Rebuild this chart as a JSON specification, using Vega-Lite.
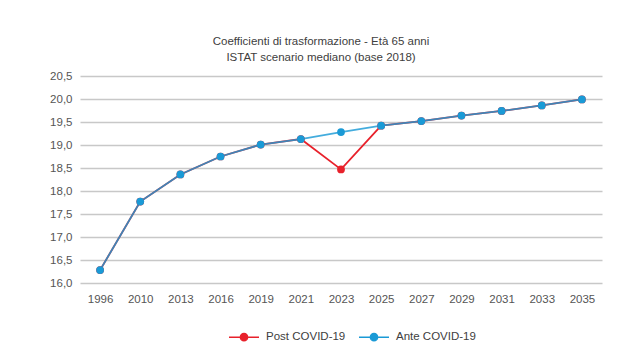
{
  "$schema": "https://vega.github.io/schema/vega-lite/v6.json",
  "width": 522,
  "height": 207,
  "autosize": {"type": "none"},
  "padding": {"left": 80, "top": 76, "right": 35, "bottom": 77},
  "background": "white",
  "config": {
    "locale": {"number": {"decimal": ",", "thousands": ".", "grouping": [3], "currency": ["€", ""]}},
    "font": "Liberation Sans",
    "view": {"stroke": null}
  },
  "title": {
    "text": ["Coefficienti di trasformazione - Età 65 anni", "ISTAT scenario mediano (base 2018)"],
    "fontSize": 11.5,
    "fontWeight": "normal",
    "color": "#404040",
    "anchor": "middle",
    "dx": -20,
    "offset": 7,
    "lineHeight": 16
  },
  "data": {
    "values": [
      {"year": "1996", "value": 16.28, "series": "Post COVID-19"},
      {"year": "2010", "value": 17.77, "series": "Post COVID-19"},
      {"year": "2013", "value": 18.36, "series": "Post COVID-19"},
      {"year": "2016", "value": 18.75, "series": "Post COVID-19"},
      {"year": "2019", "value": 19.01, "series": "Post COVID-19"},
      {"year": "2021", "value": 19.13, "series": "Post COVID-19"},
      {"year": "2023", "value": 18.47, "series": "Post COVID-19"},
      {"year": "2025", "value": 19.42, "series": "Post COVID-19"},
      {"year": "2027", "value": 19.52, "series": "Post COVID-19"},
      {"year": "2029", "value": 19.64, "series": "Post COVID-19"},
      {"year": "2031", "value": 19.74, "series": "Post COVID-19"},
      {"year": "2033", "value": 19.86, "series": "Post COVID-19"},
      {"year": "2035", "value": 19.99, "series": "Post COVID-19"},
      {"year": "1996", "value": 16.28, "series": "Ante COVID-19"},
      {"year": "2010", "value": 17.77, "series": "Ante COVID-19"},
      {"year": "2013", "value": 18.36, "series": "Ante COVID-19"},
      {"year": "2016", "value": 18.75, "series": "Ante COVID-19"},
      {"year": "2019", "value": 19.01, "series": "Ante COVID-19"},
      {"year": "2021", "value": 19.13, "series": "Ante COVID-19"},
      {"year": "2023", "value": 19.28, "series": "Ante COVID-19"},
      {"year": "2025", "value": 19.42, "series": "Ante COVID-19"},
      {"year": "2027", "value": 19.52, "series": "Ante COVID-19"},
      {"year": "2029", "value": 19.64, "series": "Ante COVID-19"},
      {"year": "2031", "value": 19.74, "series": "Ante COVID-19"},
      {"year": "2033", "value": 19.86, "series": "Ante COVID-19"},
      {"year": "2035", "value": 19.99, "series": "Ante COVID-19"}
    ]
  },
  "encoding": {
    "x": {
      "field": "year",
      "type": "ordinal",
      "scale": {"type": "point", "padding": 0.5},
      "axis": {
        "title": null,
        "labelAngle": 0,
        "ticks": false,
        "domain": false,
        "grid": false,
        "labelFontSize": 11.5,
        "labelColor": "#555555",
        "labelPadding": 10
      }
    },
    "y": {
      "field": "value",
      "type": "quantitative",
      "scale": {"domain": [16, 20.5], "zero": false, "nice": false},
      "axis": {
        "title": null,
        "values": [16, 16.5, 17, 17.5, 18, 18.5, 19, 19.5, 20, 20.5],
        "format": ".1f",
        "ticks": false,
        "domain": false,
        "gridColor": "#c8c8c8",
        "gridWidth": 1.5,
        "labelFontSize": 11.5,
        "labelColor": "#555555",
        "labelPadding": 8
      }
    },
    "color": {
      "field": "series",
      "type": "nominal",
      "scale": {"domain": ["Post COVID-19", "Ante COVID-19"], "range": ["#e8212b", "#1a9ad6"]},
      "legend": {
        "title": null,
        "orient": "none",
        "legendX": 148,
        "legendY": 245,
        "direction": "horizontal",
        "labelFontSize": 11.5,
        "labelColor": "#404040",
        "labelOffset": 6,
        "symbolType": "M-1,0H1M-0.24,0A0.24,0.24,0,1,1,0.24,0A0.24,0.24,0,1,1,-0.24,0Z",
        "symbolSize": 900,
        "symbolStrokeWidth": 1.5,
        "columnPadding": 10,
        "encode": {
          "symbols": {
            "update": {
              "fill": {"scale": "color", "field": "value"},
              "stroke": {"scale": "color", "field": "value"},
              "opacity": {"value": 1}
            }
          }
        }
      }
    }
  },
  "layer": [
    {
      "mark": {"type": "line", "strokeWidth": 1.8},
      "encoding": {
        "opacity": {
          "condition": {"test": "datum.series === 'Ante COVID-19'", "value": 0.82},
          "value": 1
        }
      }
    },
    {
      "mark": {"type": "point", "filled": true, "size": 60, "opacity": 1}
    }
  ]
}
